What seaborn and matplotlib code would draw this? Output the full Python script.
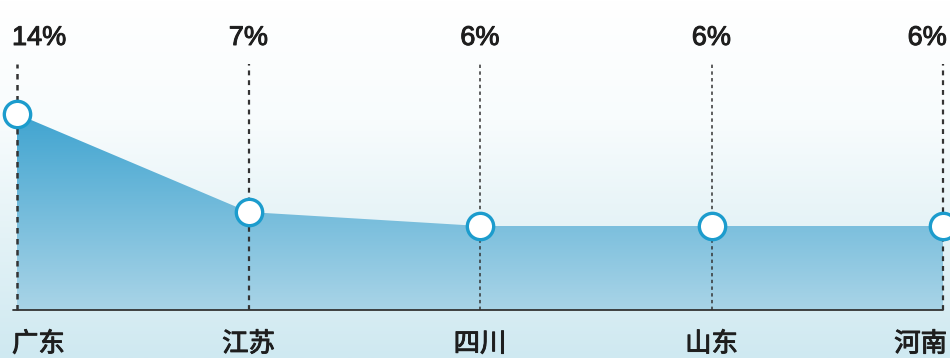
import numpy as np
import matplotlib
matplotlib.use("Agg")
import matplotlib.pyplot as plt
import matplotlib.patheffects as pe
import seaborn as sns
import pandas as pd
from matplotlib.colors import LinearSegmentedColormap

provinces = ["广东", "江苏", "四川", "山东", "河南"]
shares = [14, 7, 6, 6, 6]
labels = ["14%", "7%", "6%", "6%", "6%"]

sns.set_theme(style="white")
plt.rcParams['font.family'] = ['Noto Sans CJK SC', 'DejaVu Sans']

df = pd.DataFrame({"x": np.arange(len(provinces)), "share": shares, "prov": provinces})

fig = plt.figure(figsize=(9.5, 3.58), dpi=100)
ax = fig.add_axes([0, 0, 1, 1])
ppx = 231.5
x0 = -17 / ppx
x1 = 4 + 7 / ppx
ppy = 14.0
y0 = -48 / ppy
y1 = 310 / ppy

# background gradient
bg = LinearSegmentedColormap.from_list("bg", ["#cfe9f1", "#e3f2f6", "#f8fcfd", "#ffffff"])
grad = np.linspace(0, 1, 256).reshape(-1, 1)
ax.imshow(grad, extent=[x0, x1, y0, y1], origin="lower", aspect="auto", cmap=bg, zorder=0)

# area with gradient
fillc = LinearSegmentedColormap.from_list("fill", ["#a9d4e7", "#40a4d0"])
poly = ax.fill_between(df["x"], 0, df["share"], color="none", zorder=1)
img = ax.imshow(grad, extent=[x0, x1, 0, max(shares)], origin="lower", aspect="auto",
                cmap=fillc, zorder=1)
img.set_clip_path(poly.get_paths()[0], transform=ax.transData)

# dashed guides
lws = [1.8, 1.6, 1.1, 1.1, 1.6]
for i, v in enumerate(shares):
    ax.plot([i, i], [0, 17.6], color="#333333", lw=lws[i], ls=(0, (2.2, 2.2)), zorder=2)

# baseline
ax.plot([-4 / ppx, x1 - 7 / ppx], [0, 0], color="#333333", lw=1.3, zorder=3)

# markers
sns.scatterplot(data=df, x="x", y="share", ax=ax, s=360, color="white",
                edgecolor="#1c9ccd", linewidth=2.4, zorder=4, legend=False)
ax.set_xlim(x0, x1)
ax.set_ylim(y0, y1)
ax.axis("off")

tc = "#1e1e1e"
fx = [pe.withStroke(linewidth=0.7, foreground=tc)]
n = len(provinces)
for i in range(n):
    ha = "left" if i == 0 else ("right" if i == n - 1 else "center")
    dx = -5 / ppx if i == 0 else (4 / ppx if i == n - 1 else 0)
    ax.text(i + dx, 272 / ppy, labels[i], ha=ha, va="center", fontsize=19.5,
            color=tc, family=['Liberation Sans', 'Noto Sans CJK SC'], path_effects=fx)
    ax.text(i + dx, -34 / ppy, provinces[i], ha=ha, va="center", fontsize=19,
            color=tc, path_effects=fx)

fig.savefig("out.png", dpi=100)
